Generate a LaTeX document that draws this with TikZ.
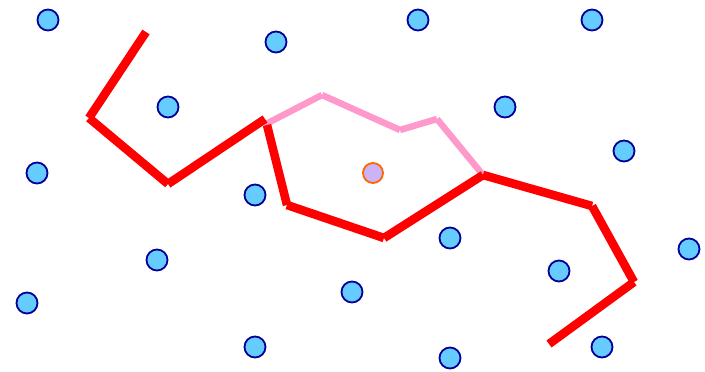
\documentclass[tikz,border=0pt]{standalone}
\definecolor{dotfill}{HTML}{66CCFF}
\definecolor{dotline}{HTML}{000099}
\definecolor{pinkline}{HTML}{FF99CC}
\definecolor{ctrfill}{HTML}{CCB3F5}
\definecolor{ctrline}{HTML}{FF6600}
\begin{document}
\begin{tikzpicture}[x=1pt,y=-1pt,
  dot/.style={circle,draw=dotline,fill=dotfill,line width=1.8pt,minimum size=21pt,inner sep=0pt},
  ctr/.style={circle,draw=ctrline,fill=ctrfill,line width=1.8pt,minimum size=20pt,inner sep=0pt},
  redseg/.style={red,line width=8.6pt},
  pinkseg/.style={pinkline,line width=6.5pt}]
\useasboundingbox (0,0) rectangle (705,372);
\foreach \n/\x/\y in {d1/48/20,d2/276/42,d3/418/20,d4/592/20,d5/168/107,d6/505/107,d7/37/173,d8/624/151,d9/255/195,d10/450/238,d11/157/260,d12/559/271,d13/689/249,d14/27/303,d15/352/292,d16/255/347,d17/450/358,d18/602/347}
  \node[dot] (\n) at (\x,\y) {};
\node[ctr] (c) at (373,173) {};
\coordinate (a1) at (146,32);
\coordinate (a2) at (89,118);
\coordinate (a3) at (168,184);
\coordinate (a4) at (265,119);
\coordinate (b1) at (267,125);
\coordinate (b2) at (287,205);
\coordinate (b3) at (384,238);
\coordinate (b4) at (483,175);
\coordinate (b5) at (592,206);
\coordinate (b6) at (634,282);
\coordinate (b7) at (549,344);
\coordinate (p1) at (264,125);
\coordinate (p2) at (322,95);
\coordinate (p3) at (400,130);
\coordinate (p4) at (437,119);
\coordinate (p5) at (483,175);
\draw[pinkseg] (p1) -- (p2);
\draw[pinkseg] (p2) -- (p3);
\draw[pinkseg] (p3) -- (p4);
\draw[pinkseg] (p4) -- (p5);
\draw[redseg] (a1) -- (a2);
\draw[redseg] (a2) -- (a3);
\draw[redseg] (a3) -- (a4);
\draw[redseg] (b1) -- (b2);
\draw[redseg] (b2) -- (b3);
\draw[redseg] (b3) -- (b4);
\draw[redseg] (b4) -- (b5);
\draw[redseg] (b5) -- (b6);
\draw[redseg] (b6) -- (b7);
\end{tikzpicture}
\end{document}
